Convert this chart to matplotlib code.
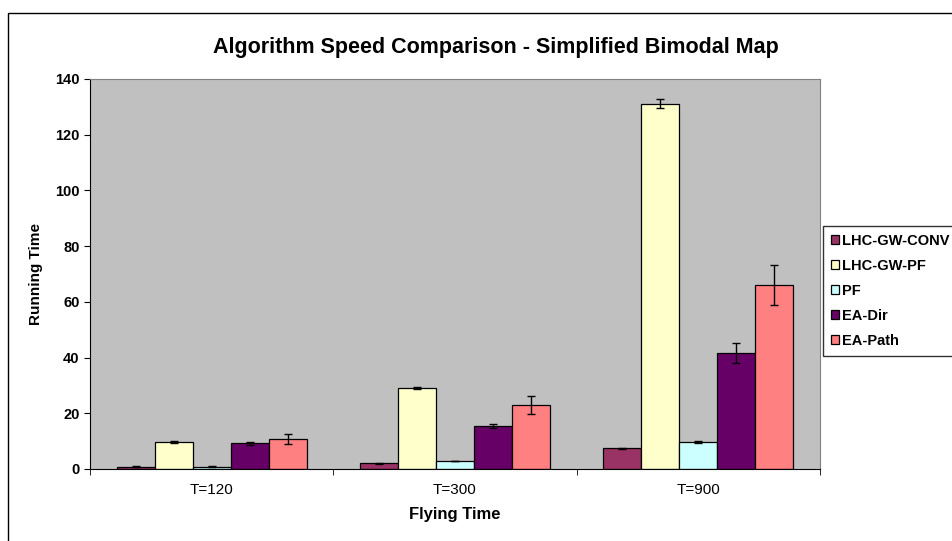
import numpy as np
import matplotlib.pyplot as plt
from matplotlib.patches import Rectangle

plt.rcParams['font.family'] = ['Liberation Sans', 'DejaVu Sans']

groups = ['T=120', 'T=300', 'T=900']
series = ['LHC-GW-CONV', 'LHC-GW-PF', 'PF', 'EA-Dir', 'EA-Path']
colors = ['#993366', '#FFFFCC', '#CCFFFF', '#660066', '#FF8080']

conv = [0.8, 2.0, 7.4]
gwpf = [9.6, 29.0, 131.2]
pf = [0.8, 2.8, 9.6]
ea_dir = [9.2, 15.4, 41.6]
ea_path = [10.8, 23.0, 66.2]

conv_err = [0.1, 0.2, 0.3]
gwpf_err = [0.4, 0.4, 1.5]
pf_err = [0.1, 0.1, 0.3]
ea_dir_err = [0.5, 0.8, 3.5]
ea_path_err = [1.8, 3.3, 7.2]

values = [conv, gwpf, pf, ea_dir, ea_path]
errors = [conv_err, gwpf_err, pf_err, ea_dir_err, ea_path_err]

fig = plt.figure(figsize=(9.53, 5.41), dpi=100)
fig.patch.set_facecolor('white')
ax = fig.add_axes([90/953, 1-469/541, 730/953, 390/541])
ax.set_facecolor('#C0C0C0')

x = np.arange(len(groups))
w = 1 / 6.4
for i, (name, vals, errs, c) in enumerate(zip(series, values, errors, colors)):
    pos = x + (i - 2) * w
    ax.bar(pos, vals, width=w, color=c, edgecolor='black', linewidth=0.9,
           label=name, zorder=2)
    ax.errorbar(pos, vals, yerr=errs, fmt='none', ecolor='black',
                elinewidth=1, capsize=3, capthick=1, zorder=3)

ax.set_xlim(-0.5, 2.5)
ax.set_ylim(0, 140)
ax.set_yticks(range(0, 141, 20))
ax.set_xticks(x)
ax.set_xticklabels(groups, fontsize=11)
ax.set_xticks([-0.5, 0.5, 1.5, 2.5], minor=True)
ax.tick_params(axis='x', which='major', length=0, pad=10)
ax.tick_params(axis='x', which='minor', length=4, direction='out')
ax.tick_params(axis='y', length=4, direction='out', labelsize=10.5)
for lab in ax.get_yticklabels():
    lab.set_fontweight('bold')
for s in ax.spines.values():
    s.set_color('#808080')
ax.spines['left'].set_color('black')
ax.spines['bottom'].set_color('black')

ax.set_xlabel('Flying Time', fontsize=12, fontweight='bold', labelpad=7)
ax.set_ylabel('Running Time', fontsize=11, fontweight='bold', labelpad=9)
fig.text(496/953, 1 - 47/541, 'Algorithm Speed Comparison - Simplified Bimodal Map',
         ha='center', va='center', fontsize=15.5, fontweight='bold')

leg = fig.legend(loc='upper left', bbox_to_anchor=(823/953, 1 - 226/541),
                 fontsize=10.5, frameon=True, fancybox=False, edgecolor='black',
                 handlelength=0.55, handleheight=0.55, handletextpad=0.2,
                 labelspacing=0.75, borderpad=0.55, borderaxespad=0)
leg.get_frame().set_linewidth(1)
for t in leg.get_texts():
    t.set_fontweight('bold')

# outer chart border
fig.patches.append(Rectangle((8/953, -0.01), 1.0, 1 - 13/541 + 0.01,
                             transform=fig.transFigure, fill=False,
                             edgecolor='black', linewidth=1))

fig.savefig('out.png', dpi=100)
